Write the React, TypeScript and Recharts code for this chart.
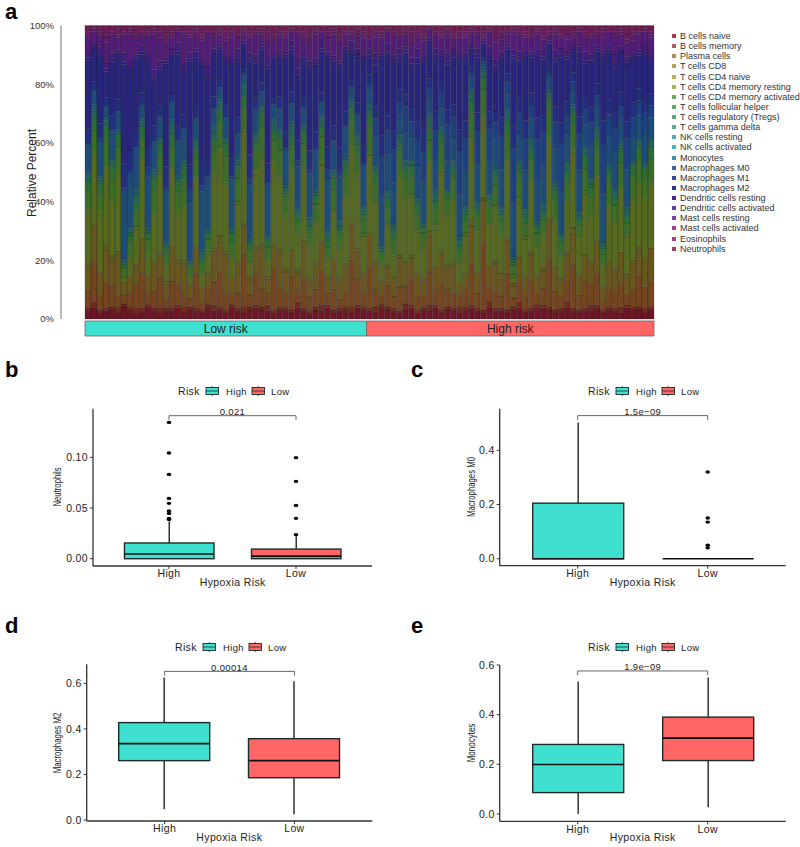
import React from 'react';
import { BarChart, Bar, ComposedChart, XAxis, YAxis, Legend, Scatter, ReferenceLine, Label, LabelList } from 'recharts';

const FONT = '"Liberation Sans", Arial, sans-serif';

// ---------- Panel a: relative composition per sample (percent) ----------
const bCellsNaive = [3,4,2,3,3,2,4,3,2,3,4,3,2,3,3,4,2,3,3,2,4,3,3,2,4,3,2,3,4,3,3,2,3, 3,2,4,3,2,3,3,4,2,3,3,2,4,3,3,2,4,3,3,2,3,4,2,3,3,4,2,3,3,2,3,4, 3,2,4,3,3,2,3,4,2,3,3,4,3,2,3,4,3,2,3,3,4,2,3,3,2,4,3,3,2,3];
const bCellsMemory = [1,2,1,1,1,2,1,1,2,1,1,1,2,1,1,1,2,1,1,1,1,2,1,1,1,1,2,1,1,1,2,1,1, 1,1,2,1,1,1,2,1,1,1,1,2,1,1,1,2,1,1,1,1,2,1,1,1,2,1,1,1,1,2,1,1, 1,1,2,1,1,1,1,2,1,1,2,1,1,1,1,2,1,1,1,2,1,1,1,1,2,1,1,1,2,1];
const plasmaCells = [6,14,5,9,7,4,3,5,8,12,4,6,10,3,9,7,5,3,12,3,5,8,12,6,3,5,18,4,11,6,4,14,7, 5,11,4,9,5,6,12,4,7,3,5,16,9,5,14,6,3,7,4,8,6,9,5,4,11,5,9,6,5,4,6,14, 5,22,5,6,4,12,3,7,5,9,4,6,16,6,4,8,14,5,9,7,11,3,6,6,8,4,6,10,7,9];
const tCellsCD8 = [8,12,7,11,9,14,4,5,6,10,6,9,8,5,12,7,10,4,8,5,5,11,10,13,6,10,9,5,9,13,5,8,12, 7,9,6,12,5,8,10,5,9,6,8,12,10,6,11,9,4,6,5,10,8,7,7,5,12,8,10,7,9,4,5,13, 6,14,7,9,6,11,4,8,6,9,5,6,12,8,5,9,11,6,9,7,10,4,8,7,10,6,9,9,8,11];
const tCellsCD4Naive = [1,0,1,2,1,1,0,1,1,2,0,1,1,1,0,2,1,1,1,0,1,1,2,1,0,1,1,1,0,2,1,1,1, 1,0,1,2,1,1,0,1,1,1,2,0,1,1,1,0,1,1,2,1,0,1,1,1,2,0,1,1,1,0,1,2, 1,1,0,1,2,1,1,0,1,1,1,2,1,0,1,1,2,1,0,1,1,1,2,1,0,1,1,1,2,0];
const tCellsCD4Resting = [18,24,19,27,18,26,2,6,12,27,6,16,26,5,26,15,18,2,23,3,6,25,30,22,6,20,31,5,25,28,5,27,24, 17,27,13,24,11,13,26,6,16,10,22,27,25,12,27,20,5,13,7,26,21,21,14,10,23,13,27,16,22,7,12,28, 13,27,14,20,13,26,2,19,12,24,10,11,26,16,6,17,26,12,21,15,22,6,18,16,21,13,20,21,19,21];
const tCellsCD4Activated = [1,1,2,0,1,1,0,1,1,1,2,0,1,1,1,2,1,0,1,1,1,2,0,1,1,1,1,0,2,1,1,1,1, 2,1,0,1,1,1,2,1,0,1,1,1,2,1,1,0,1,1,1,2,1,0,1,1,1,2,1,1,0,1,1,1, 2,1,1,0,1,1,1,2,1,1,0,1,1,1,2,1,1,0,1,1,1,2,1,1,0,1,1,1,2,1];
const tCellsFollicularHelper = [6,7,5,9,7,8,3,4,5,6,4,8,6,3,7,6,8,3,6,3,4,7,8,9,5,8,7,4,6,10,4,7,8, 5,7,4,8,4,5,8,3,7,4,7,7,6,4,9,7,3,5,4,7,6,6,5,4,7,5,8,5,7,3,4,8, 4,8,5,7,4,8,3,7,4,7,4,4,9,6,3,7,8,4,8,6,8,3,7,5,8,4,7,8,6,8];
const tCellsRegulatory = [3,4,3,5,4,4,1,2,3,4,2,4,3,2,4,3,4,1,3,2,2,4,4,4,3,4,4,2,3,5,2,3,4, 2,3,2,4,2,3,3,2,4,2,3,4,3,2,4,3,1,3,2,3,3,4,3,2,4,3,3,2,3,2,2,4, 2,4,2,3,2,4,1,3,2,3,2,2,4,3,2,3,4,2,4,3,4,2,3,2,4,2,3,3,3,4];
const tCellsGammaDelta = [0,0,1,0,0,0,0,1,0,0,0,0,1,0,0,0,0,0,1,0,0,0,1,0,0,0,0,0,1,0,0,0,0, 0,1,0,0,0,0,0,1,0,0,0,0,0,1,0,0,0,0,1,0,0,0,0,0,1,0,0,0,0,0,1,0, 0,0,1,0,0,0,0,0,1,0,0,0,0,1,0,0,0,0,0,1,0,0,0,0,1,0,0,0,0,0];
const nkCellsResting = [2,3,1,2,2,1,1,2,3,2,1,2,2,1,3,2,2,1,2,2,1,3,2,2,1,2,3,1,2,2,1,2,2, 2,3,1,2,2,1,3,2,2,1,2,2,3,1,2,2,1,2,2,3,1,2,2,1,3,2,2,1,2,2,1,3, 2,2,1,3,2,2,1,2,2,3,1,2,2,1,2,3,2,1,2,2,3,1,2,2,1,3,2,2,1,2];
const nkCellsActivated = [1,2,1,1,0,1,1,0,2,1,1,1,0,1,2,1,1,0,1,1,1,2,1,0,1,1,2,1,1,0,1,2,1, 1,1,2,0,1,1,1,1,0,2,1,1,1,1,2,0,1,1,1,1,2,0,1,1,1,2,1,0,1,1,1,1, 2,1,0,1,1,2,1,1,0,1,1,2,1,1,0,1,1,2,1,0,1,1,1,2,1,1,0,1,1,1];
const monocytes = [10,5,12,4,10,6,22,18,14,5,17,10,7,18,6,12,10,20,7,20,17,6,4,7,16,9,3,18,7,5,18,5,7, 12,6,14,6,15,13,5,18,10,15,10,4,7,14,4,10,16,12,14,6,9,8,11,13,5,11,6,10,8,14,12,4, 13,2,12,9,13,5,18,9,13,7,14,13,4,11,15,9,5,13,8,11,7,16,10,12,8,13,9,8,10,7];
const macrophagesM0 = [0,0,1,0,0,0,2,0,0,0,3,0,0,1,0,0,0,4,0,2,0,0,0,0,1,0,0,2,0,0,0,0,0, 0,0,2,0,1,0,0,3,0,2,0,0,0,0,3,6,14,8,12,5,9,5,9,11,4,10,5,12,7,15,11,2, 11,0,10,6,12,4,18,7,11,5,14,12,1,9,16,7,3,12,5,8,4,17,7,9,4,11,6,5,7,4];
const macrophagesM1 = [5,3,5,3,5,4,8,8,6,4,7,5,4,7,3,5,5,8,4,8,7,4,3,4,7,5,2,8,4,3,7,3,4, 6,4,7,3,7,6,3,8,5,8,5,2,4,7,3,4,7,5,7,4,4,4,6,7,3,6,3,5,4,7,6,2, 6,1,6,4,6,3,8,5,6,4,7,6,2,5,7,5,3,6,4,5,4,8,5,5,4,6,5,4,5,4];
const macrophagesM2 = [23,11,23,9,18,14,33,27,25,13,29,14,12,35,13,25,14,34,17,32,26,15,10,14,31,19,8,31,12,11,33,13,12, 25,14,23,14,28,22,14,30,19,28,20,10,16,28,6,14,26,21,23,11,14,15,20,23,12,19,9,15,16,23,21,6, 19,5,18,14,20,8,22,13,21,12,19,20,8,15,22,15,7,19,12,16,11,20,16,16,13,20,15,11,15,11];
const dendriticCellsResting = [1,1,0,1,1,2,1,1,0,1,1,2,1,1,0,1,1,1,2,1,1,0,1,1,1,2,0,1,1,1,1,0,1, 1,1,2,0,1,1,1,1,2,1,0,1,1,1,1,2,1,0,1,1,1,1,2,0,1,1,1,1,2,1,0,1, 1,0,1,2,1,1,1,0,1,1,2,1,0,1,1,1,1,2,1,0,1,1,1,2,1,1,0,1,1,1];
const dendriticCellsActivated = [2,1,3,2,2,1,3,2,1,2,2,3,2,1,2,3,2,2,1,2,3,2,1,2,2,3,1,2,2,1,3,2,2, 1,2,3,2,2,1,3,2,2,1,2,3,2,1,2,2,1,3,2,2,1,2,3,2,1,2,2,3,1,2,2,1, 2,1,3,2,2,1,2,3,2,1,2,2,1,3,2,2,1,2,3,2,1,2,2,3,1,2,2,1,3,2];
const mastCellsResting = [5,4,4,7,6,4,6,9,5,3,6,12,8,5,4,4,10,5,4,6,12,4,3,5,6,4,2,5,7,3,6,4,6, 5,3,9,4,6,8,3,5,7,6,4,2,4,6,3,5,5,4,6,4,4,5,4,5,3,4,4,6,3,5,5,3, 5,1,5,6,4,3,5,6,4,4,5,4,2,5,4,4,3,5,4,6,3,5,4,6,4,5,4,5,4,5];
const mastCellsActivated = [1,1,0,2,1,1,0,1,2,1,0,1,2,1,1,0,1,1,2,1,0,1,1,1,2,0,1,1,1,1,2,0,1, 1,0,1,2,1,1,0,1,1,2,1,0,1,1,1,2,1,0,1,1,1,2,1,1,0,1,1,2,1,0,1,1, 1,1,0,2,1,1,1,0,1,2,1,1,0,1,1,2,1,0,1,1,1,2,0,1,1,1,2,1,0,1];
const eosinophils = [1,0,1,1,0,2,1,1,0,1,1,1,0,2,1,1,0,1,1,1,0,1,1,2,0,1,1,1,0,1,1,2,0, 1,1,0,1,2,1,0,1,1,1,0,1,2,1,1,0,1,1,1,0,1,2,1,1,0,1,1,0,1,2,1,1, 0,1,1,1,2,0,1,1,1,0,1,2,1,1,0,1,1,1,2,0,1,1,0,1,1,2,1,0,1,1];
const neutrophils = [2,1,2,3,2,1,2,1,3,2,2,1,2,3,2,1,2,2,1,3,2,2,1,2,2,3,1,2,2,1,2,3,2, 2,1,2,2,3,1,2,2,1,3,2,2,1,2,3,2,2,1,2,3,1,2,2,3,1,2,2,1,3,2,2,1, 2,2,1,3,2,2,1,2,2,3,1,2,2,1,3,2,2,1,2,3,2,1,2,2,1,3,2,2,1,2];

const cellTypeLabels = ['B cells naive','B cells memory','Plasma cells','T cells CD8','T cells CD4 naive','T cells CD4 memory resting','T cells CD4 memory activated','T cells follicular helper','T cells regulatory (Tregs)','T cells gamma delta','NK cells resting','NK cells activated','Monocytes','Macrophages M0','Macrophages M1','Macrophages M2','Dendritic cells resting','Dendritic cells activated','Mast cells resting','Mast cells activated','Eosinophils','Neutrophils'];
const cellTypeKeys = ['bCellsNaive','bCellsMemory','plasmaCells','tCellsCD8','tCellsCD4Naive','tCellsCD4Resting','tCellsCD4Activated','tCellsFollicularHelper','tCellsRegulatory','tCellsGammaDelta','nkCellsResting','nkCellsActivated','monocytes','macrophagesM0','macrophagesM1','macrophagesM2','dendriticCellsResting','dendriticCellsActivated','mastCellsResting','mastCellsActivated','eosinophils','neutrophils'];
const cellTypeValues = [bCellsNaive,bCellsMemory,plasmaCells,tCellsCD8,tCellsCD4Naive,tCellsCD4Resting,tCellsCD4Activated,tCellsFollicularHelper,tCellsRegulatory,tCellsGammaDelta,nkCellsResting,nkCellsActivated,monocytes,macrophagesM0,macrophagesM1,macrophagesM2,dendriticCellsResting,dendriticCellsActivated,mastCellsResting,mastCellsActivated,eosinophils,neutrophils];
const barFills = ['#701524','#72281e','#74451e','#68561c','#5e5c1c','#556a1e','#487020','#3a6e26','#2a6c32','#266642','#216254','#1e5c66','#1d4c78','#1d4080','#222e80','#28267c','#33207c','#421e7c','#531c78','#621c6e','#6a1c62','#6c1c52'];
const legendFills = ['#a03c50','#b0605a','#b48a60','#b4a45c','#b4b45c','#a0b85c','#70a860','#60a860','#60a874','#60a890','#5ca4a8','#50b0b4','#4490a4','#406090','#40449c','#30308c','#403088','#6040a0','#8040a4','#a04084','#a84080','#a04060'];

const compositionRows = bCellsNaive.map((_, i) => {
  const row: Record<string, number | string> = { sample: `S${i + 1}` };
  cellTypeKeys.forEach((k, j) => { row[k] = cellTypeValues[j][i] ?? 0; });
  return row;
});
const percentTicks = [0, 0.2, 0.4, 0.6, 0.8, 1];

const riskGroupNames = ['Low risk', 'High risk'];
const riskGroupSamples = [47, 48];
const riskRow = [{ group: 'risk', low: riskGroupSamples[0], high: riskGroupSamples[1] }];

// ---------- Panels b-e: box plot statistics ----------
const groups = ['High', 'Low'];
const neutrophilsBox = [{ min: 0, q1: 0, med: 0.0046, q3: 0.0155, max: 0.037 }, { min: 0, q1: 0, med: 0.0025, q3: 0.0095, max: 0.022 }];
const neutrophilsOutliersHigh = [0.1345, 0.1043, 0.0832, 0.0595, 0.0546, 0.047, 0.0447, 0.0398, 0.0388];
const neutrophilsOutliersLow = [0.0997, 0.0763, 0.0526, 0.0398, 0.0237];
const m0Box = [{ min: 0, q1: 0, med: 0, q3: 0.205, max: 0.503 }, { min: 0, q1: 0, med: 0, q3: 0, max: 0 }];
const m0OutliersLow = [0.32, 0.15, 0.135, 0.05, 0.04];
const m2Box = [{ min: 0.048, q1: 0.261, med: 0.3355, q3: 0.428, max: 0.626 }, { min: 0.026, q1: 0.186, med: 0.261, q3: 0.3575, max: 0.61 }];
const monocytesBox = [{ min: 0, q1: 0.086, med: 0.199, q3: 0.28, max: 0.534 }, { min: 0.027, q1: 0.215, med: 0.3055, q3: 0.39, max: 0.55 }];

const RISK_COLORS = ['#40E0D0', '#FF6666'];
const INK = '#1d2b2b';

function BoxShape(props: any) {
  const { x, y, width, height, payload, index } = props;
  const { min, q1, med, q3, max } = payload;
  const pxPerUnit = q3 > q1 ? Math.abs(height) / (q3 - q1) : 0;
  const cx = x + width / 2;
  const top = y;
  const bottom = y + Math.abs(height);
  const medY = bottom - (med - q1) * pxPerUnit;
  return (
    <g>
      <line x1={cx} x2={cx} y1={top - (max - q3) * pxPerUnit} y2={top} stroke="#333" strokeWidth={1.5} />
      <line x1={cx} x2={cx} y1={bottom} y2={bottom + (q1 - min) * pxPerUnit} stroke="#333" strokeWidth={1.5} />
      <rect x={x} y={top} width={width} height={Math.abs(height)} fill={RISK_COLORS[index]} stroke={INK} strokeWidth={1.4} />
      <line x1={x} x2={x + width} y1={medY} y2={medY} stroke="#111" strokeWidth={1.6} />
    </g>
  );
}

function Outlier(props: any) {
  return <ellipse cx={props.cx} cy={props.cy} rx={2.3} ry={1.7} fill="#000" />;
}

function RiskLegend({ x, y }: { x: number; y: number }) {
  const Swatch = ({ at, color }: { at: number; color: string }) => (
    <g>
      <line x1={at + 6.25} x2={at + 6.25} y1={3} y2={13} stroke={INK} strokeWidth={0.8} />
      <rect x={at} y={4.5} width={12.5} height={7} fill={color} stroke={INK} strokeWidth={0.9} />
      <line x1={at} x2={at + 12.5} y1={8} y2={8} stroke={INK} strokeWidth={0.8} />
    </g>
  );
  const t = { fontFamily: FONT, fill: '#222', dominantBaseline: 'central' as const };
  return (
    <svg width={130} height={16} style={{ position: 'absolute', left: x, top: y - 8, display: 'block' }}>
      <text x={0} y={8} fontSize={10.5} letterSpacing={0.35} {...t}>Risk</text>
      <Swatch at={28} color={RISK_COLORS[0]} />
      <text x={48} y={8} fontSize={9.5} letterSpacing={0.35} {...t}>High</text>
      <Swatch at={74} color={RISK_COLORS[1]} />
      <text x={93} y={8} fontSize={9.5} letterSpacing={0.35} {...t}>Low</text>
    </svg>
  );
}

function BoxPanel(p: any) {
  const rows = groups.map((g, i) => ({ group: g, ...p.stats[i], box: [p.stats[i].q1, p.stats[i].q3] }));
  const outliers = [
    ...(p.outHigh ?? []).map((v: number) => ({ group: 'High', value: v })),
    ...(p.outLow ?? []).map((v: number) => ({ group: 'Low', value: v })),
  ];
  const width = p.plotRight + p.marginRight;
  const seg = { stroke: '#555', strokeWidth: 0.9, ifOverflow: 'visible' as const };
  return (
    <div style={{ position: 'absolute', left: p.left, top: p.top }}>
      <ComposedChart width={width} height={p.height} data={rows} margin={{ top: p.plotTop, right: p.marginRight, left: 0, bottom: 0 }}>
        <XAxis dataKey="group" allowDuplicatedCategory={false} height={p.height - p.plotBottom} padding={{ left: p.pad, right: p.pad }} tickSize={3} tickMargin={1} interval={0}
          axisLine={{ stroke: '#333', strokeWidth: 1.3 }} tickLine={{ stroke: '#333' }}
          tick={{ fontSize: 10.5, fill: '#222', fontFamily: FONT, letterSpacing: 0.35 }}>
          <Label content={() => <text x={p.xLabelX} y={p.xLabelY} textAnchor="middle" dominantBaseline="central" fontSize={10.5} letterSpacing={0.4} fill="#222" fontFamily={FONT}>Hypoxia Risk</text>} />
        </XAxis>
        <YAxis type="number" width={p.plotLeft} domain={p.domain} allowDataOverflow ticks={p.ticks} tickFormatter={(v: number) => v.toFixed(p.digits)} tickSize={3} tickMargin={2} interval={0}
          axisLine={{ stroke: '#333', strokeWidth: 1.3 }} tickLine={{ stroke: '#333' }}
          tick={{ fontSize: 10.5, fill: '#222', fontFamily: FONT, letterSpacing: 0.35 }}>
          <Label content={() => <text transform={`translate(${p.yLabelX},${p.yLabelY}) rotate(-90)`} textAnchor="middle" dominantBaseline="central" fontSize={11} fill="#222" fontFamily={FONT} textLength={p.yLabelLen} lengthAdjust="spacingAndGlyphs">{p.yLabel}</text>} />
        </YAxis>
        <Legend layout="horizontal" verticalAlign="middle" align="center" wrapperStyle={{ position: 'absolute', left: 0, top: 0, width: 0, height: 0 }} content={() => <RiskLegend x={p.legendX} y={p.legendY} />} />
        <Bar dataKey="box" barSize={p.boxWidth} shape={BoxShape} isAnimationActive={false} />
        <Scatter data={outliers} dataKey="value" shape={Outlier} isAnimationActive={false} />
        <ReferenceLine segment={[{ x: 'High', y: p.bracket }, { x: 'Low', y: p.bracket }]} {...seg} label={{ value: p.pValue, position: 'top', offset: 0.5, fontSize: 9.5, fill: '#222', fontFamily: FONT, letterSpacing: 0.35 }} />
        <ReferenceLine segment={[{ x: 'High', y: p.bracket }, { x: 'High', y: p.bracketEnd }]} {...seg} />
        <ReferenceLine segment={[{ x: 'Low', y: p.bracket }, { x: 'Low', y: p.bracketEnd }]} {...seg} />
      </ComposedChart>
    </div>
  );
}

const panelLetters = [
  { t: 'a', x: 5, y: 2 }, { t: 'b', x: 5, y: 360 }, { t: 'c', x: 411, y: 360 }, { t: 'd', x: 5, y: 616 }, { t: 'e', x: 411, y: 616 },
];

export default function App() {
  return (
    <div style={{ position: 'absolute', left: 0, top: 0, width: 800, height: 847, background: '#fff', overflow: 'hidden', fontFamily: FONT }}>
      {panelLetters.map((l) => (
        <div key={l.t} style={{ position: 'absolute', left: l.x, top: l.y, fontSize: 22, fontWeight: 700, lineHeight: '20px', color: '#000' }}>{l.t}</div>
      ))}

      <div style={{ position: 'absolute', left: 0, top: 0 }}>
        <BarChart width={800} height={325} data={compositionRows} stackOffset="expand" barCategoryGap={0} barGap={0} margin={{ top: 25.5, right: 146, left: 0, bottom: 6 }}>
          <XAxis dataKey="sample" hide padding={{ left: 24, right: 0 }} />
          <YAxis width={61} domain={[0, 1]} ticks={percentTicks} interval={0} tickFormatter={(v: number) => `${Math.round(v * 100)}%`} tickLine={false} tickMargin={1}
            axisLine={{ stroke: '#8a8a8a', strokeWidth: 1.2 }} tick={{ fontSize: 9.5, fill: '#333', fontFamily: FONT }}>
            <Label content={() => <text transform="translate(32,173) rotate(-90)" textAnchor="middle" dominantBaseline="central" fontSize={12} fill="#222" fontFamily={FONT}>Relative Percent</text>} />
          </YAxis>
          <Legend layout="horizontal" verticalAlign="middle" align="center" wrapperStyle={{ position: 'absolute', left: 0, top: 0, width: 0, height: 0 }} content={() => (
            <div style={{ position: 'absolute', left: 670, top: 31 }}>
              {cellTypeLabels.map((name, i) => (
                <div key={name} style={{ display: 'flex', alignItems: 'center', height: 10.13, width: 128, fontSize: 9, color: '#333', whiteSpace: 'nowrap', fontFamily: FONT }}>
                  <span style={{ display: 'inline-block', flexShrink: 0, width: 4, height: 4, marginLeft: 2, marginRight: 4, background: legendFills[i] }} />
                  {name}
                </div>
              ))}
            </div>
          )} />
          {cellTypeKeys.map((k, j) => (
            <Bar key={k} dataKey={k} name={cellTypeLabels[j]} stackId="cells" fill={barFills[j]} stroke="#14101c" strokeOpacity={0.32} strokeWidth={0.7} isAnimationActive={false} />
          ))}
        </BarChart>
      </div>

      <div style={{ position: 'absolute', left: 84, top: 320 }}>
        <BarChart width={571} height={17} layout="vertical" data={riskRow} barCategoryGap={0} margin={{ top: 1, right: 1, left: 1, bottom: 1 }}>
          <XAxis type="number" hide domain={[0, riskGroupSamples[0] + riskGroupSamples[1]]} />
          <YAxis type="category" dataKey="group" hide />
          <Bar dataKey="low" stackId="risk" fill={RISK_COLORS[0]} stroke="#666" strokeWidth={0.8} isAnimationActive={false}>
            <LabelList position="center" content={(q: any) => <text x={q.x + q.width / 2} y={q.y + q.height / 2} textAnchor="middle" dominantBaseline="central" fontSize={12} fill="#222" fontFamily={FONT}>{riskGroupNames[0]}</text>} />
          </Bar>
          <Bar dataKey="high" stackId="risk" fill={RISK_COLORS[1]} stroke="#666" strokeWidth={0.8} isAnimationActive={false}>
            <LabelList position="center" content={(q: any) => <text x={q.x + q.width / 2} y={q.y + q.height / 2} textAnchor="middle" dominantBaseline="central" fontSize={12} fill="#222" fontFamily={FONT}>{riskGroupNames[1]}</text>} />
          </Bar>
        </BarChart>
      </div>

      <BoxPanel left={0} top={360} height={240} plotLeft={93} plotRight={372} marginRight={28} plotTop={48.7} plotBottom={206} pad={12.5} boxWidth={89.5}
        domain={[-0.0072, 0.148]} ticks={[0, 0.05, 0.1]} digits={2} stats={neutrophilsBox} outHigh={neutrophilsOutliersHigh} outLow={neutrophilsOutliersLow}
        bracket={0.1411} bracketEnd={0.137} pValue="0.021" yLabel="Neutrophils" yLabelX={57} yLabelY={127} yLabelLen={39} xLabelX={232.7} xLabelY={221.7} legendX={178} legendY={31} />
      <BoxPanel left={400} top={360} height={240} plotLeft={99.7} plotRight={385.7} marginRight={14.3} plotTop={48.7} plotBottom={205.7} pad={13} boxWidth={91}
        domain={[-0.0258, 0.5535]} ticks={[0, 0.2, 0.4]} digits={1} stats={m0Box} outLow={m0OutliersLow}
        bracket={0.528} bracketEnd={0.512} pValue="1.5e−09" yLabel="Macrophages M0" yLabelX={70.7} yLabelY={127} yLabelLen={60} xLabelX={242.7} xLabelY={221.7} legendX={188} legendY={31} />
      <BoxPanel left={0} top={610} height={237} plotLeft={86.7} plotRight={372.3} marginRight={27.7} plotTop={54.3} plotBottom={211} pad={13} boxWidth={91}
        domain={[-0.004, 0.684]} ticks={[0, 0.2, 0.4, 0.6]} digits={1} stats={m2Box}
        bracket={0.653} bracketEnd={0.634} pValue="0.00014" yLabel="Macrophages M2" yLabelX={57} yLabelY={133} yLabelLen={60.7} xLabelX={229.3} xLabelY={227.3} legendX={175} legendY={36.7} />
      <BoxPanel left={400} top={610} height={237} plotLeft={99.7} plotRight={385.7} marginRight={14.3} plotTop={55} plotBottom={211.3} pad={13} boxWidth={91}
        domain={[-0.0296, 0.6]} ticks={[0, 0.2, 0.4, 0.6]} digits={1} stats={monocytesBox}
        bracket={0.576} bracketEnd={0.5585} pValue="1.9e−09" yLabel="Monocytes" yLabelX={70.7} yLabelY={133} yLabelLen={38.7} xLabelX={242.7} xLabelY={227.3} legendX={188} legendY={36.7} />
    </div>
  );
}
